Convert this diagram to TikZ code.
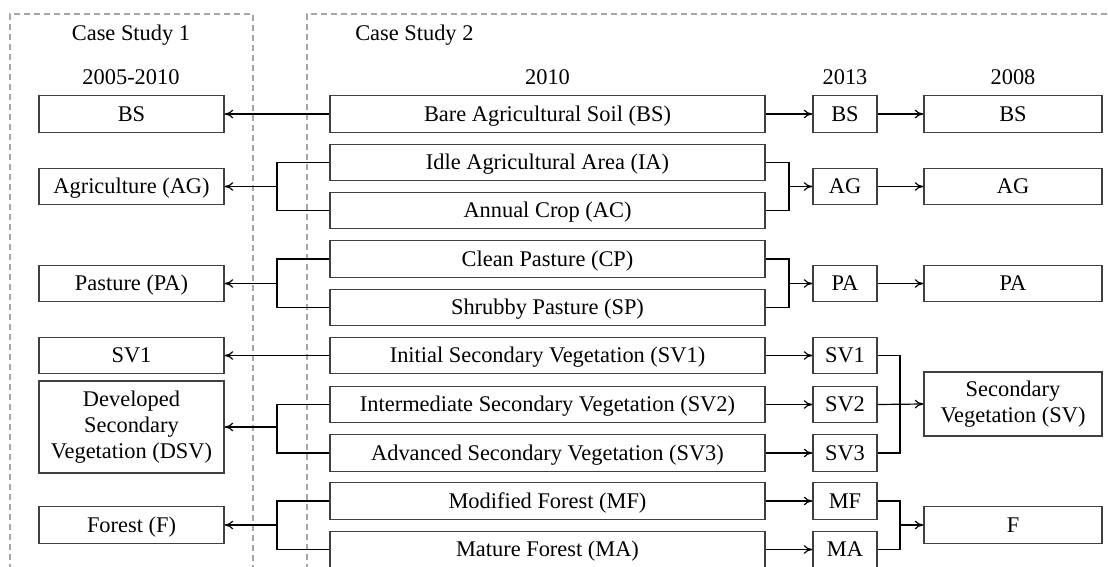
\documentclass[tikz,border=0pt]{standalone}
\usepackage{fontspec}
\setmainfont{Liberation Serif}
\usetikzlibrary{arrows.meta}
\begin{document}
\begin{tikzpicture}[x=0.75pt,y=-0.75pt,
  font=\fontsize{16.8pt}{20pt}\selectfont,
  box/.style={draw=black!75,line width=0.9pt,inner sep=0pt,minimum height=27.4pt,align=center},
  oneline/.style={text height=11.1pt,text depth=0pt},
  lbox/.style={box,minimum width=138.75pt},
  mbox/.style={box,oneline,minimum width=326.25pt},
  sbox/.style={box,oneline,minimum width=48pt},
  rbox/.style={box,minimum width=133.5pt},
  link/.style={draw=black,line width=0.9pt},
  arr/.style={link,-{To[length=6.5pt,width=6.5pt]}},
  frame/.style={draw=black!35,line width=0.8pt,dash pattern=on 4.5pt off 3pt},
  hdr/.style={inner sep=0pt}]
\useasboundingbox (0,0) rectangle (1108,567);
\begin{scope}
\clip (0,0) rectangle (1108,567);
% study frames
\draw[frame] (10,580) -- (10,14) -- (253,14) -- (253,580);
\draw[frame] (307,580) -- (307,14) -- (1120,14);
\end{scope}

% headings
\node[hdr] (cs1) at (131,35) {Case Study 1};
\node[hdr,anchor=west] (cs2) at (355,35) {Case Study 2};
\node[hdr] (y1) at (131,77) {2005-2010};
\node[hdr] (y2) at (547.5,77) {2010};
\node[hdr] (y3) at (845,77) {2013};
\node[hdr] (y4) at (1013,77) {2008};

% 2005-2010 classes
\node[lbox,oneline] (lBS) at (131.5,114) {BS};
\node[lbox,oneline] (lAG) at (131.5,186.5) {Agriculture (AG)};
\node[lbox,oneline] (lPA) at (131.5,283.5) {Pasture (PA)};
\node[lbox,oneline] (lSV1) at (131.5,355.5) {SV1};
\node[lbox,minimum height=69pt,font=\fontsize{16.8pt}{19.5pt}\selectfont] (lDSV) at (131.5,427) {Developed\\Secondary\\Vegetation (DSV)};
\node[lbox,oneline] (lF) at (131.5,525) {Forest (F)};

% 2010 classes
\node[mbox] (mBS) at (547.5,114) {Bare Agricultural Soil (BS)};
\node[mbox] (mIA) at (547.5,162.5) {Idle Agricultural Area (IA)};
\node[mbox] (mAC) at (547.5,210.5) {Annual Crop (AC)};
\node[mbox] (mCP) at (547.5,259) {Clean Pasture (CP)};
\node[mbox] (mSP) at (547.5,307.5) {Shrubby Pasture (SP)};
\node[mbox] (mSV1) at (547.5,355.5) {Initial Secondary Vegetation (SV1)};
\node[mbox] (mSV2) at (547.5,404.5) {Intermediate Secondary Vegetation (SV2)};
\node[mbox] (mSV3) at (547.5,453) {Advanced Secondary Vegetation (SV3)};
\node[mbox] (mMF) at (547.5,501) {Modified Forest (MF)};
\node[mbox] (mMA) at (547.5,549.5) {Mature Forest (MA)};

% 2013 classes
\node[sbox] (sBS) at (845,114) {BS};
\node[sbox] (sAG) at (845,186.5) {AG};
\node[sbox] (sPA) at (845,283.5) {PA};
\node[sbox] (sSV1) at (845,355.5) {SV1};
\node[sbox] (sSV2) at (845,404.5) {SV2};
\node[sbox] (sSV3) at (845,453) {SV3};
\node[sbox] (sMF) at (845,501) {MF};
\node[sbox] (sMA) at (845,549.5) {MA};

% 2008 classes
\node[rbox,oneline] (rBS) at (1013,114) {BS};
\node[rbox,oneline] (rAG) at (1013,186.5) {AG};
\node[rbox,oneline] (rPA) at (1013,283.5) {PA};
\node[rbox,minimum height=48pt] (rSV) at (1013,404) {Secondary\\Vegetation (SV)};
\node[rbox,oneline] (rF) at (1013,525) {F};

% junction points
\coordinate (jAGl) at (277,186.5);
\coordinate (jPAl) at (277,283.5);
\coordinate (jDSVl) at (277,427);
\coordinate (jFl) at (277,525);
\coordinate (jAGr) at (789,186.5);
\coordinate (jPAr) at (789,283.5);
\coordinate (jSVr) at (900,404.5);
\coordinate (jFr) at (900,525);

% links towards case study 1
\draw[arr] (mBS.west) -- (lBS.east);
\draw[link] (mIA.west) -| (jAGl) |- (mAC.west);
\draw[arr] (jAGl) -- (lAG.east);
\draw[link] (mCP.west) -| (jPAl) |- (mSP.west);
\draw[arr] (jPAl) -- (lPA.east);
\draw[arr] (mSV1.west) -- (lSV1.east);
\draw[link] (mSV2.west) -| (jDSVl) |- (mSV3.west);
\draw[arr] (jDSVl) -- (lDSV.east);
\draw[link] (mMF.west) -| (jFl) |- (mMA.west);
\draw[arr] (jFl) -- (lF.east);

% links towards 2013 and 2008
\draw[arr] (mBS.east) -- (sBS.west);
\draw[arr] (sBS.east) -- (rBS.west);
\draw[link] (mIA.east) -| (jAGr) |- (mAC.east);
\draw[arr] (jAGr) -- (sAG.west);
\draw[arr] (sAG.east) -- (rAG.west);
\draw[link] (mCP.east) -| (jPAr) |- (mSP.east);
\draw[arr] (jPAr) -- (sPA.west);
\draw[arr] (sPA.east) -- (rPA.west);
\draw[arr] (mSV1.east) -- (sSV1.west);
\draw[arr] (mSV2.east) -- (sSV2.west);
\draw[arr] (mSV3.east) -- (sSV3.west);
\draw[arr] (mMF.east) -- (sMF.west);
\draw[arr] (mMA.east) -- (sMA.west);
\draw[link] (sSV1.east) -| (jSVr) |- (sSV3.east);
\draw[arr] (sSV2.east) -- (rSV.west);
\draw[link] (sMF.east) -| (jFr) |- (sMA.east);
\draw[arr] (jFr) -- (rF.west);
\end{tikzpicture}
\end{document}
